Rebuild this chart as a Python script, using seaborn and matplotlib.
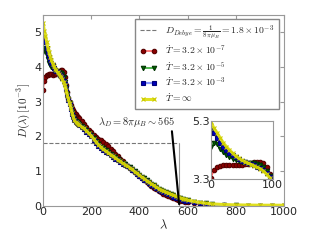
import numpy as np
import pandas as pd
import seaborn as sns
import matplotlib
matplotlib.use('Agg')
import matplotlib.pyplot as plt

# lambda grid and D(lambda) in units of 1e-3
lam = [0, 5, 10, 15, 20, 25, 30, 35, 40, 45, 50, 55, 60, 65, 70, 75, 80, 85, 90, 95, 100,
       105, 110, 115, 120, 125, 130, 135, 140, 145, 150,
       160, 170, 180, 190, 200, 210, 220, 230, 240, 250, 260, 270, 280, 290, 300,
       310, 320, 330, 340, 350, 360, 370, 380, 390, 400, 410, 420, 430, 440, 450,
       460, 470, 480, 490, 500, 510, 520, 530, 540, 550, 560, 570, 580, 590, 600,
       625, 650, 675, 700, 750, 800, 850, 900, 950, 1000]

d_red = [3.35, 3.6, 3.72, 3.76, 3.78, 3.8, 3.8, 3.79, 3.78, 3.79, 3.8, 3.81, 3.82, 3.85, 3.88, 3.9, 3.9, 3.85, 3.72, 3.48, 3.28,
         3.12, 3.0, 2.9, 2.82, 2.75, 2.7, 2.65, 2.6, 2.56, 2.52,
         2.44, 2.37, 2.28, 2.2, 2.12, 2.05, 1.99, 1.94, 1.89, 1.84, 1.78, 1.72, 1.65, 1.57, 1.5,
         1.43, 1.36, 1.29, 1.22, 1.15, 1.09, 1.03, 0.97, 0.91, 0.85, 0.8, 0.74, 0.69, 0.63, 0.58,
         0.53, 0.48, 0.44, 0.39, 0.35, 0.32, 0.29, 0.26, 0.23, 0.2, 0.18, 0.15, 0.13, 0.11, 0.1,
         0.07, 0.05, 0.04, 0.03, 0.015, 0.01, 0.005, 0.003, 0.002, 0.001]
d_green = [4.42, 4.55, 4.5, 4.35, 4.22, 4.12, 4.05, 4.0, 3.95, 3.91, 3.88, 3.87, 3.86, 3.85, 3.84, 3.82, 3.8, 3.7, 3.57, 3.4, 3.22,
           3.08, 2.95, 2.82, 2.7, 2.58, 2.5, 2.45, 2.42, 2.39, 2.36,
           2.31, 2.25, 2.18, 2.11, 2.04, 1.95, 1.86, 1.78, 1.71, 1.66, 1.6, 1.55, 1.5, 1.45, 1.4,
           1.35, 1.3, 1.25, 1.2, 1.16, 1.11, 1.06, 1.0, 0.95, 0.89, 0.84, 0.79, 0.74, 0.69, 0.63,
           0.59, 0.54, 0.5, 0.46, 0.42, 0.39, 0.36, 0.33, 0.3, 0.27, 0.24, 0.22, 0.2, 0.18, 0.16,
           0.12, 0.09, 0.07, 0.05, 0.03, 0.015, 0.01, 0.006, 0.004, 0.002]
d_blue = [5.0, 4.87, 4.72, 4.55, 4.4, 4.3, 4.2, 4.12, 4.05, 3.98, 3.92, 3.88, 3.85, 3.81, 3.78, 3.73, 3.68, 3.6, 3.5, 3.36, 3.2,
          3.06, 2.92, 2.79, 2.66, 2.55, 2.46, 2.41, 2.38, 2.35, 2.32,
          2.27, 2.21, 2.14, 2.07, 2.0, 1.9, 1.81, 1.73, 1.66, 1.61, 1.56, 1.51, 1.46, 1.41, 1.36,
          1.31, 1.27, 1.22, 1.18, 1.14, 1.09, 1.03, 0.97, 0.92, 0.86, 0.81, 0.76, 0.71, 0.66, 0.6,
          0.56, 0.51, 0.47, 0.43, 0.39, 0.36, 0.33, 0.3, 0.27, 0.24, 0.22, 0.19, 0.17, 0.15, 0.13,
          0.1, 0.08, 0.06, 0.04, 0.02, 0.01, 0.006, 0.004, 0.003, 0.002]
d_yellow = [5.28, 5.05, 4.9, 4.72, 4.55, 4.42, 4.3, 4.2, 4.1, 4.02, 3.95, 3.9, 3.85, 3.8, 3.75, 3.7, 3.65, 3.57, 3.47, 3.35, 3.2,
            3.08, 2.95, 2.82, 2.68, 2.56, 2.47, 2.42, 2.39, 2.36, 2.33,
            2.28, 2.23, 2.16, 2.09, 2.02, 1.93, 1.84, 1.76, 1.69, 1.63, 1.58, 1.53, 1.48, 1.43, 1.38,
            1.33, 1.28, 1.23, 1.19, 1.15, 1.1, 1.05, 0.99, 0.94, 0.88, 0.83, 0.78, 0.73, 0.68, 0.63,
            0.59, 0.54, 0.5, 0.46, 0.43, 0.4, 0.37, 0.34, 0.31, 0.28, 0.26, 0.23, 0.21, 0.19, 0.17,
            0.13, 0.1, 0.08, 0.06, 0.04, 0.03, 0.025, 0.02, 0.02, 0.02]

labels = [r'$\dot{T}=3.2\times10^{-7}$', r'$\dot{T}=3.2\times10^{-5}$',
          r'$\dot{T}=3.2\times10^{-3}$', r'$\dot{T}=\infty$']
d_debye = 1.8
lam_D = 565

sns.set_style('white')
plt.rcParams['font.family'] = ['DejaVu Sans']
plt.rcParams['mathtext.fontset'] = 'cm'
plt.rcParams['axes.edgecolor'] = '#999999'
plt.rcParams['xtick.direction'] = 'in'
plt.rcParams['ytick.direction'] = 'in'

styles = [dict(color='#ff6666', marker='o', mfc='darkred', mec='#550000', lw=1.2),
          dict(color='#33aa33', marker='v', mfc='darkgreen', mec='#003300', lw=1.2),
          dict(color='#8899ff', marker='s', mfc='#0000bb', mec='#000077', lw=1.6),
          dict(color='#e0e020', marker='x', mfc='#cccc00', mec='#cccc00', lw=2.2)]
series = [d_red, d_green, d_blue, d_yellow]

fig = plt.figure(figsize=(3.19, 2.40), dpi=100)
ax = fig.add_axes([0.135, 0.142, 0.755, 0.796])

ax.hlines(d_debye, 0, lam_D, colors='#777777', linestyles='--', lw=0.8,
          label=r'$D_{Debye}=\frac{1}{8\pi\mu_B}=1.8\times10^{-3}$')
ax.vlines(lam_D, 0, d_debye, colors='#999999', lw=0.8)

for vals, lab, st in zip(series, labels, styles):
    sns.lineplot(x=lam, y=vals, ax=ax, label=lab, ms=3.2, mew=0.8, **st)

ax.text(228, 2.32, r'$\lambda_D=8\pi\mu_B\sim565$', fontsize=7.5)
ax.annotate('', xy=(lam_D, 0.05), xytext=(535, 2.15),
            arrowprops=dict(arrowstyle='-', color='k', lw=1.5, shrinkA=0, shrinkB=0))

ax.set_xlim(0, 1000)
ax.set_ylim(0, 5.5)
ax.set_xticks([0, 200, 400, 600, 800, 1000])
ax.set_yticks([0, 1, 2, 3, 4, 5])
ax.tick_params(labelsize=8, top=True, right=True, length=3, color='#999999', pad=1)
ax.set_xlabel(r'$\lambda$', fontsize=9, labelpad=1)
ax.set_ylabel(r'$D(\lambda)\,[10^{-3}]$', fontsize=8, labelpad=2)

leg = ax.legend(loc='upper right', bbox_to_anchor=(0.979, 0.979), borderaxespad=0,
                fontsize=7, numpoints=2, fancybox=False, framealpha=1,
                handlelength=1.8, labelspacing=0.3, borderpad=0.45)
leg.get_frame().set_edgecolor('#888888')

# inset zoom on small lambda
axin = fig.add_axes([0.661, 0.254, 0.194, 0.242])
for vals, st in zip(series, styles):
    sns.lineplot(x=lam[:21], y=vals[:21], ax=axin, ms=3.2, mew=0.8, legend=False, **st)
axin.set_xlim(0, 100)
axin.set_ylim(3.3, 5.3)
axin.set_xticks([0, 100])
axin.set_yticks([3.3, 5.3])
axin.set_xlabel('')
axin.set_ylabel('')
axin.tick_params(labelsize=8, length=0, pad=1)

fig.savefig('out.png', dpi=100)
